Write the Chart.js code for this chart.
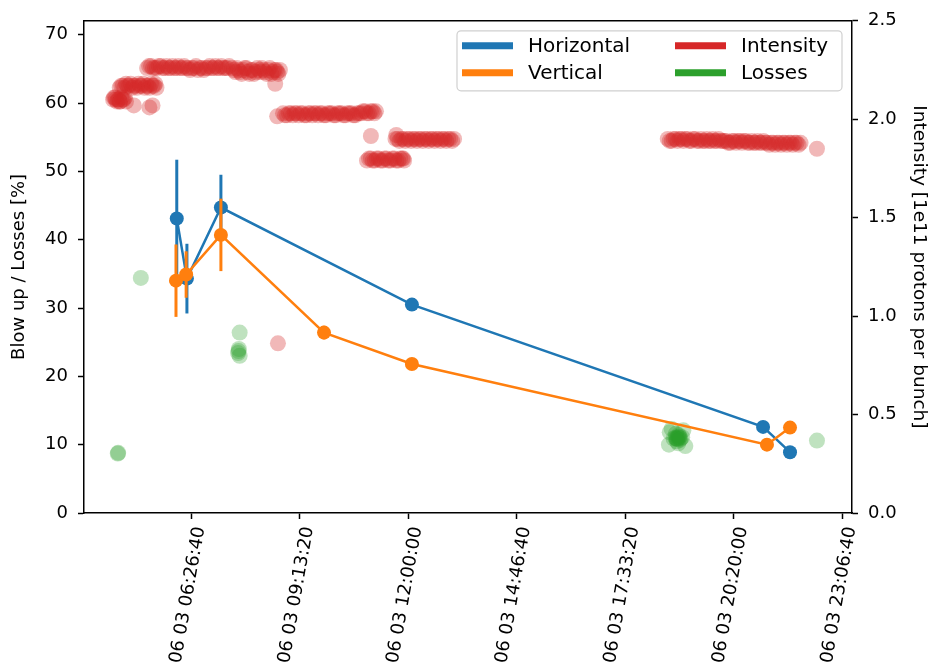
<!DOCTYPE html>
<html>
<head>
<meta charset="utf-8">
<script src="https://cdn.jsdelivr.net/npm/chart.js@4.4.0/dist/chart.umd.min.js"></script>
<style>
  body { margin: 0; background: #fff; }
  #wrap { width: 931px; height: 669px; }
</style>
</head>
<body>
<div id="wrap"><canvas id="chart" width="931" height="669"></canvas></div>
<script>
// time axis is hours of the day (06 03), ticks every 10000 s
const tickHours = [6.44444, 9.22222, 12, 14.77778, 17.55556, 20.33333, 23.11111];
const tickLabels = ["06 03 06:26:40", "06 03 09:13:20", "06 03 12:00:00", "06 03 14:46:40",
                    "06 03 17:33:20", "06 03 20:20:00", "06 03 23:06:40"];
const leftTicks = [0, 10, 20, 30, 40, 50, 60, 70];

// blow up [%] with error bars
const horTime = [6.08, 6.34, 7.21, 12.10, 21.09, 21.78];
const horValue = [43.1, 34.3, 44.7, 30.5, 12.6, 8.9];
const horError = [8.6, 5.1, 4.8, 0.8, 0.4, 0.4];

const verTime = [6.06, 6.32, 7.21, 9.85, 12.10, 21.19, 21.78];
const verValue = [34.0, 34.9, 40.7, 26.4, 21.8, 10.0, 12.5];
const verError = [5.3, 3.4, 5.3, 1.0, 0.3, 0.3, 0.3];

// losses [%]
const lossTime = [4.57, 4.58, 5.16, 7.69, 7.67, 7.65, 7.69, 7.66,
                  18.85, 18.90, 18.95, 18.88, 18.93, 18.98, 18.80, 19.02, 18.86, 18.92,
                  18.70, 18.68, 19.10, 19.05, 18.75, 18.89, 18.94, 18.91, 18.87, 18.96,
                  22.47];
const lossValue = [8.7, 8.8, 34.4, 26.4, 24.0, 23.4, 23.0, 23.7,
                   11.0, 10.8, 11.2, 10.5, 11.4, 10.9, 10.9, 11.1, 11.6, 10.2,
                   11.8, 10.0, 9.8, 12.1, 12.3, 10.9, 11.0, 11.1, 10.9, 10.7,
                   10.6];

// intensity [1e11 p/b] on the right axis
const intTime = [
  4.45, 4.50, 4.55, 4.60, 4.66, 4.72, 4.78,
  4.47, 4.52, 4.57, 4.63, 4.69, 4.75,
  4.62, 4.70, 4.78, 4.86, 4.94, 5.02, 5.10, 5.18, 5.26, 5.34, 5.42, 5.50, 5.56,
  4.66, 4.74, 4.82, 4.90, 4.98, 5.06, 5.14, 5.22, 5.30, 5.38, 5.46, 5.53,
  4.98, 5.38, 5.46, 4.62,
  5.32, 5.42, 5.52, 5.62, 5.72, 5.82, 5.92, 6.02, 6.12, 6.22, 6.32, 6.42, 6.52, 6.62, 6.72, 6.82,
  6.92, 7.02, 7.12, 7.22, 7.32, 7.42,
  5.37, 5.47, 5.57, 5.67, 5.77, 5.87, 5.97, 6.07, 6.17, 6.27, 6.37, 6.47, 6.57, 6.67, 6.77, 6.87,
  6.97, 7.07, 7.17, 7.27, 7.37,
  7.50, 7.58, 7.66, 7.74, 7.82, 7.90, 7.98, 8.06, 8.14, 8.22, 8.30, 8.38, 8.46, 8.54, 8.62, 8.68,
  7.54, 7.62, 7.70, 7.78, 7.86, 7.94, 8.02, 8.10, 8.18, 8.26, 8.34, 8.42, 8.50, 8.58, 8.65,
  8.72, 8.60,
  8.65, 8.67,
  8.80, 8.90, 9.00, 9.10, 9.20, 9.30, 9.40, 9.50, 9.60, 9.70, 9.80, 9.90, 10.00, 10.10, 10.20,
  10.30, 10.40, 10.50, 10.60, 10.70, 10.80, 10.90, 11.00, 11.10, 11.18,
  8.85, 8.95, 9.05, 9.15, 9.25, 9.35, 9.45, 9.55, 9.65, 9.75, 9.85, 9.95, 10.05, 10.15, 10.25,
  10.35, 10.45, 10.55, 10.65, 10.75, 10.85, 10.95, 11.05, 11.14,
  11.05,
  10.95, 11.05, 11.15, 11.25, 11.35, 11.45, 11.55, 11.65, 11.75, 11.85, 11.90,
  11.00, 11.10, 11.20, 11.30, 11.40, 11.50, 11.60, 11.70, 11.80, 11.88,
  11.68, 11.78, 11.88, 11.98, 12.08, 12.18, 12.28, 12.38, 12.48, 12.58, 12.68, 12.78, 12.88,
  12.98, 13.08, 13.18, 11.70,
  11.73, 11.83, 11.93, 12.03, 12.13, 12.23, 12.33, 12.43, 12.53, 12.63, 12.73, 12.83, 12.93,
  13.03, 13.13,
  18.65, 18.75, 18.85, 18.95, 19.05, 19.15, 19.25, 19.35, 19.45, 19.55, 19.65, 19.75, 19.85,
  19.95, 20.05, 20.15, 20.25, 20.35, 20.45, 20.55, 20.65, 20.75, 20.85, 20.95, 21.05, 21.15,
  21.25, 21.35, 21.45, 21.55, 21.65, 21.75, 21.85, 21.95, 22.05,
  18.70, 18.80, 18.90, 19.00, 19.10, 19.20, 19.30, 19.40, 19.50, 19.60, 19.70, 19.80, 19.90,
  20.00, 20.10, 20.20, 20.30, 20.40, 20.50, 20.60, 20.70, 20.80, 20.90, 21.00, 21.10, 21.20,
  21.30, 21.40, 21.50, 21.60, 21.70, 21.80, 21.90, 22.00,
  22.47
];
const intValue = [
  2.10, 2.11, 2.09, 2.10, 2.11, 2.10, 2.09,
  2.11, 2.10, 2.10, 2.09, 2.10, 2.11,
  2.16, 2.17, 2.18, 2.17, 2.16, 2.17, 2.18, 2.17, 2.16, 2.17, 2.18, 2.17, 2.16,
  2.17, 2.16, 2.17, 2.18, 2.17, 2.16, 2.17, 2.18, 2.17, 2.16, 2.17, 2.18,
  2.07, 2.06, 2.07, 2.09,
  2.26, 2.27, 2.26, 2.27, 2.26, 2.27, 2.26, 2.26, 2.27, 2.26, 2.26, 2.25, 2.26, 2.25, 2.26, 2.26,
  2.27, 2.26, 2.26, 2.27, 2.26, 2.27,
  2.27, 2.26, 2.26, 2.27, 2.26, 2.26, 2.27, 2.26, 2.26, 2.27, 2.26, 2.26, 2.27, 2.26, 2.25, 2.26,
  2.26, 2.27, 2.26, 2.26, 2.26,
  2.26, 2.24, 2.25, 2.23, 2.26, 2.24, 2.25, 2.23, 2.26, 2.24, 2.25, 2.23, 2.26, 2.24, 2.25, 2.23,
  2.25, 2.26, 2.24, 2.25, 2.26, 2.23, 2.25, 2.24, 2.25, 2.26, 2.24, 2.25, 2.23, 2.25, 2.24,
  2.25, 2.18,
  2.015, 0.862,
  2.03, 2.02, 2.03, 2.03, 2.02, 2.03, 2.02, 2.03, 2.03, 2.02, 2.03, 2.02, 2.03, 2.02, 2.03,
  2.03, 2.02, 2.03, 2.02, 2.03, 2.03, 2.04, 2.03, 2.04, 2.04,
  2.02, 2.03, 2.02, 2.03, 2.03, 2.02, 2.03, 2.02, 2.03, 2.03, 2.02, 2.03, 2.03, 2.02, 2.03,
  2.02, 2.03, 2.03, 2.02, 2.03, 2.04, 2.03, 2.04, 2.03,
  1.915,
  1.79, 1.80, 1.79, 1.80, 1.79, 1.80, 1.79, 1.80, 1.79, 1.80, 1.79,
  1.80, 1.79, 1.80, 1.79, 1.80, 1.79, 1.80, 1.79, 1.80, 1.80,
  1.90, 1.89, 1.90, 1.90, 1.89, 1.90, 1.90, 1.89, 1.90, 1.90, 1.89, 1.90, 1.90,
  1.89, 1.90, 1.90, 1.92,
  1.90, 1.90, 1.89, 1.90, 1.90, 1.89, 1.90, 1.90, 1.89, 1.90, 1.90, 1.89, 1.90,
  1.90, 1.89,
  1.90, 1.89, 1.90, 1.90, 1.89, 1.90, 1.89, 1.90, 1.89, 1.89, 1.90, 1.89, 1.89,
  1.90, 1.89, 1.89, 1.88, 1.89, 1.89, 1.88, 1.89, 1.88, 1.88, 1.89, 1.88, 1.88,
  1.87, 1.88, 1.88, 1.87, 1.88, 1.88, 1.87, 1.88, 1.88,
  1.89, 1.90, 1.89, 1.90, 1.90, 1.89, 1.90, 1.89, 1.90, 1.89, 1.89, 1.90, 1.89,
  1.89, 1.89, 1.88, 1.89, 1.88, 1.89, 1.89, 1.88, 1.89, 1.88, 1.88, 1.89, 1.88,
  1.88, 1.87, 1.88, 1.88, 1.87, 1.88, 1.88, 1.87,
  1.85
];

const BLUE = "#1f77b4", ORANGE = "#ff7f0e", RED = "#d62728", GREEN = "#2ca02c";

function pts(xs, ys) {
  return xs.map((x, i) => ({ x: x, y: ys[i] }));
}

Chart.defaults.font.family = "'DejaVu Sans', sans-serif";
Chart.defaults.color = "#000";

// vertical error bars, drawn just before the dataset so markers sit on top
const errorBars = {
  id: "errorBars",
  beforeDatasetDraw(chart, args) {
    const ds = chart.data.datasets[args.index];
    if (!ds.errors) return;
    const ctx = chart.ctx;
    const yScale = chart.scales[ds.yAxisID || "y"];
    ctx.save();
    ctx.strokeStyle = ds.borderColor;
    ctx.lineWidth = 3;
    args.meta.data.forEach((p, i) => {
      const v = ds.data[i].y, e = ds.errors[i];
      ctx.beginPath();
      ctx.moveTo(p.x, yScale.getPixelForValue(v + e));
      ctx.lineTo(p.x, yScale.getPixelForValue(v - e));
      ctx.stroke();
    });
    ctx.restore();
  }
};

// top spine + matplotlib style legend box in the upper right
const frameAndLegend = {
  id: "frameAndLegend",
  afterDraw(chart) {
    const ctx = chart.ctx;
    const a = chart.chartArea;
    ctx.save();
    ctx.strokeStyle = "#000";
    ctx.lineWidth = 1.5;
    ctx.beginPath();
    ctx.moveTo(a.left, a.top);
    ctx.lineTo(a.right, a.top);
    ctx.stroke();

    const bx = a.right - 395, by = a.top + 10, bw = 385, bh = 60;
    ctx.fillStyle = "rgba(255,255,255,0.8)";
    ctx.strokeStyle = "#d0d0d0";
    ctx.lineWidth = 1.2;
    ctx.beginPath();
    ctx.roundRect(bx, by, bw, bh, 4);
    ctx.fill();
    ctx.stroke();

    const order = ["Horizontal", "Vertical", "Intensity", "Losses"];
    ctx.font = "20px 'DejaVu Sans'";
    ctx.textBaseline = "middle";
    order.forEach((name, k) => {
      const ds = chart.data.datasets.find(d => d.label === name);
      const col = Math.floor(k / 2), row = k % 2;
      const x0 = bx + 5 + col * 213, y0 = by + 15 + row * 27;
      ctx.strokeStyle = ds.legendColor;
      ctx.lineWidth = 7;
      ctx.beginPath();
      ctx.moveTo(x0, y0);
      ctx.lineTo(x0 + 51, y0);
      ctx.stroke();
      ctx.fillStyle = "#000";
      ctx.fillText(name, x0 + 66, y0 + 1);
    });
    ctx.restore();
  }
};

new Chart(document.getElementById("chart"), {
  type: "scatter",
  data: {
    datasets: [
      {
        label: "Vertical", data: pts(verTime, verValue), errors: verError,
        showLine: true, borderColor: ORANGE, backgroundColor: ORANGE, legendColor: ORANGE,
        borderWidth: 2.5, pointRadius: 7, pointHoverRadius: 7, pointBorderWidth: 0,
        yAxisID: "y", order: 1
      },
      {
        label: "Horizontal", data: pts(horTime, horValue), errors: horError,
        showLine: true, borderColor: BLUE, backgroundColor: BLUE, legendColor: BLUE,
        borderWidth: 2.5, pointRadius: 7, pointHoverRadius: 7, pointBorderWidth: 0,
        yAxisID: "y", order: 2
      },
      {
        label: "Losses", data: pts(lossTime, lossValue),
        backgroundColor: "rgba(44,160,44,0.3)", legendColor: GREEN,
        pointRadius: 8, pointBorderWidth: 0, yAxisID: "y", order: 3
      },
      {
        label: "Intensity", data: pts(intTime, intValue),
        backgroundColor: "rgba(214,39,40,0.33)", legendColor: RED,
        pointRadius: 8, pointBorderWidth: 0, yAxisID: "y2", order: 4
      }
    ]
  },
  options: {
    responsive: false,
    animation: false,
    devicePixelRatio: 1,
    layout: { padding: { top: 17, left: 0, right: 0, bottom: 0 } },
    plugins: { legend: { display: false }, tooltip: { enabled: false } },
    scales: {
      x: {
        type: "linear", position: "bottom", min: 3.705, max: 23.367,
        afterBuildTicks: s => { s.ticks = tickHours.map(v => ({ value: v })); },
        afterFit: s => { s.height = 156; },
        ticks: {
          font: { size: 18 }, maxRotation: 80, minRotation: 80, padding: 6, labelOffset: 9,
          autoSkip: false,
          callback: (v) => tickLabels[tickHours.indexOf(v)]
        },
        grid: { drawOnChartArea: false, tickLength: 6, tickColor: "#000", tickWidth: 1.5 },
        border: { color: "#000", width: 1.5 }
      },
      y: {
        position: "left", min: 0, max: 72.03,
        afterBuildTicks: s => { s.ticks = leftTicks.map(v => ({ value: v })); },
        afterFit: s => { s.width = 84; },
        ticks: { font: { size: 18 }, padding: 10 },
        grid: { drawOnChartArea: false, tickLength: 6, tickColor: "#000", tickWidth: 1.5 },
        border: { color: "#000", width: 1.5 },
        title: { display: true, text: "Blow up / Losses [%]", font: { size: 18 }, padding: { top: 9, bottom: 0 } }
      },
      y2: {
        position: "right", min: 0, max: 2.5,
        afterFit: s => { s.width = 79; },
        ticks: { font: { size: 18 }, padding: 10, stepSize: 0.5, callback: v => v.toFixed(1) },
        grid: { drawOnChartArea: false, tickLength: 6, tickColor: "#000", tickWidth: 1.5 },
        border: { color: "#000", width: 1.5 },
        title: { display: true, text: "Intensity [1e11 protons per bunch]", font: { size: 18.5 }, padding: { top: 1, bottom: 0 } }
      }
    }
  },
  plugins: [errorBars, frameAndLegend]
});
</script>
</body>
</html>
